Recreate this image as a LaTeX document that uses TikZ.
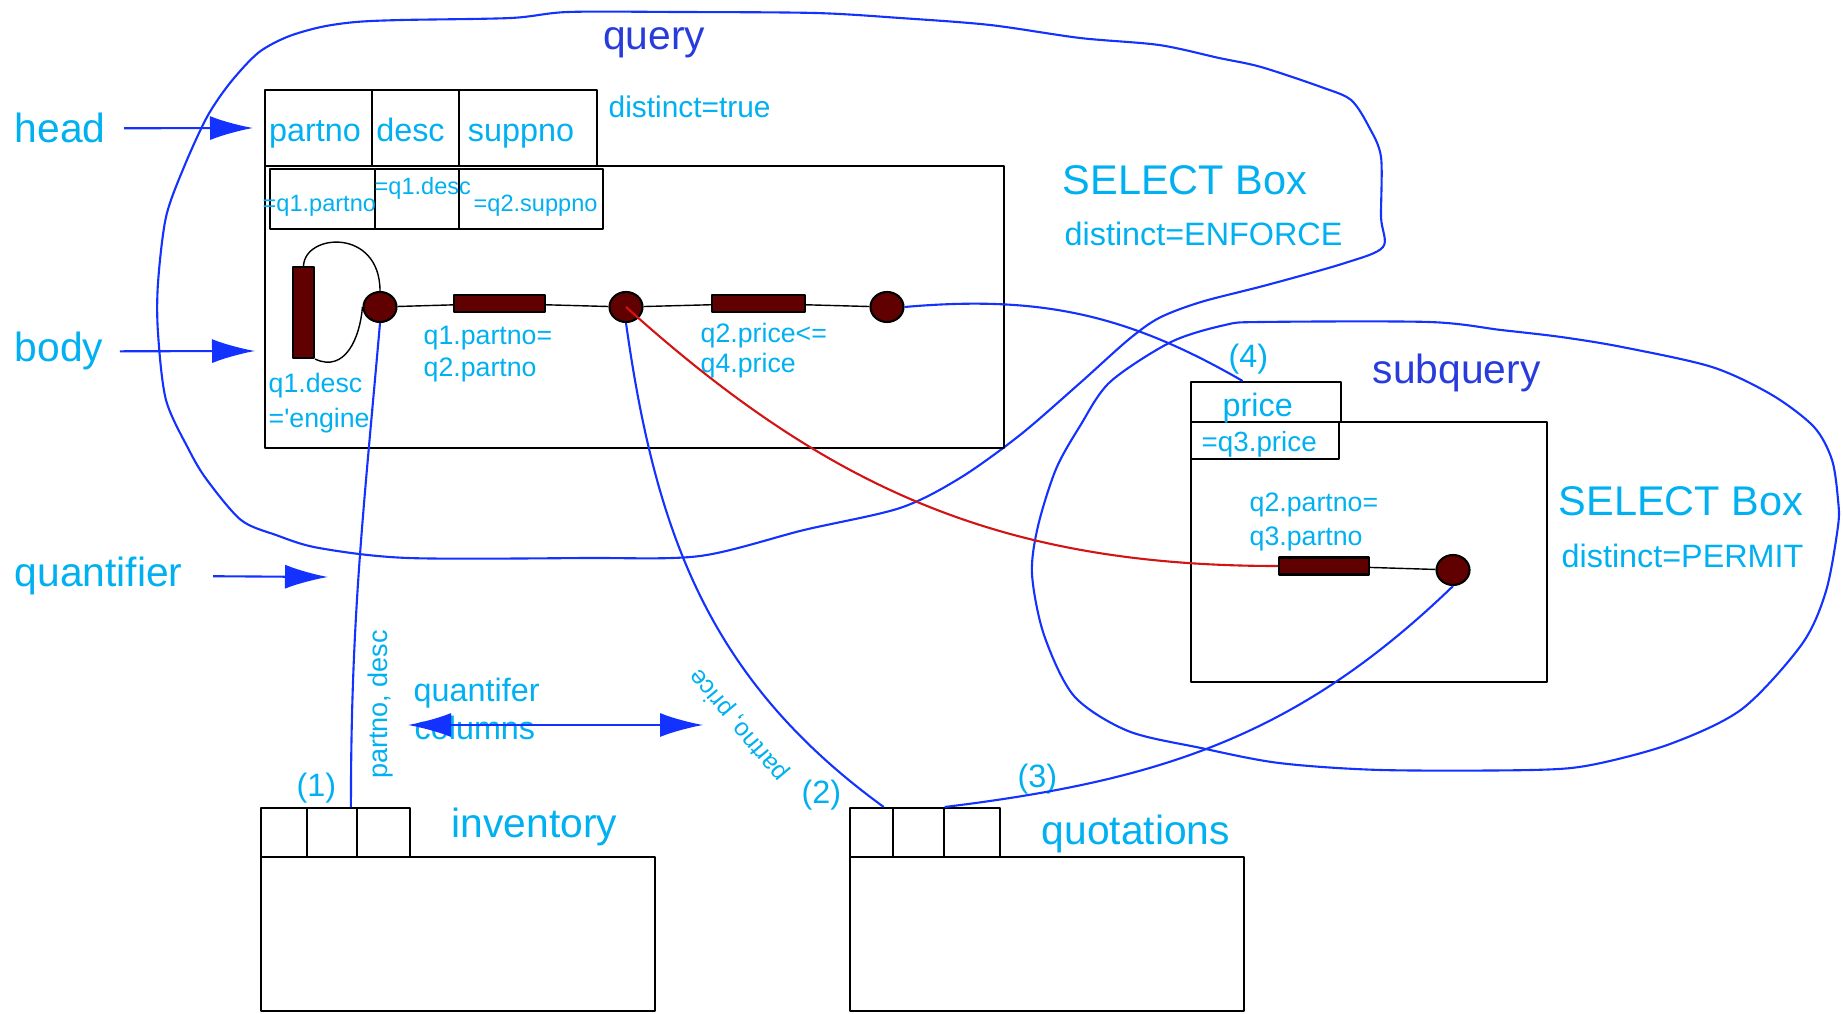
\documentclass[tikz,border=0pt]{standalone}
\usepackage{fontspec}
\setmainfont{Liberation Sans}
\newfontfamily\plainfont{Liberation Sans}
\usetikzlibrary{arrows.meta,shapes.geometric}

\definecolor{labelblue}{RGB}{0,176,240}
\definecolor{lineblue}{RGB}{20,50,255}
\definecolor{titleblue}{RGB}{40,60,220}
\definecolor{predred}{RGB}{96,0,0}
\definecolor{linkred}{RGB}{210,20,20}

\newcommand{\fbig}{\fontsize{11.6}{13}\selectfont}
\newcommand{\fsel}{\fontsize{11.8}{13}\selectfont}
\newcommand{\fmid}{\fontsize{9.2}{11}\selectfont}
\newcommand{\fsm}{\fontsize{8.5}{10}\selectfont}
\newcommand{\fpred}{\fontsize{7.6}{9}\selectfont}
\newcommand{\ftiny}{\fontsize{6.7}{8}\selectfont}

\tikzset{
  lbl/.style={text=labelblue, inner sep=0pt, anchor=base west},
  cell/.style={draw, line width=0.7pt, inner sep=0pt, anchor=north west},
  bar/.style={draw, fill=predred, line width=0.6pt, inner sep=0pt},
  joint/.style={ellipse, draw, fill=predred, line width=0.6pt, inner sep=0pt,
    minimum width=0.33cm, minimum height=0.30cm},
  blob/.style={lineblue, line width=0.6pt},
  link/.style={lineblue, line width=0.6pt},
  pointer/.style={lineblue, line width=0.6pt, ->},
}

\begin{document}
\begin{tikzpicture}[>={Latex[length=4.3mm,width=2.4mm]}, line join=round]
\useasboundingbox (0,0) rectangle (18.43,10.13);

% outlines of query and subquery
\draw[blob] plot[smooth cycle, tension=0.5] coordinates {
  (3.56,9.91) (4.02,9.93) (5.11,9.95) (5.68,10.01) (6.77,10.01) (8.15,10.00)
  (9.00,9.95) (9.90,9.88) (10.80,9.75) (11.59,9.68) (12.19,9.55) (12.61,9.46)
  (13.21,9.26) (13.51,9.13) (13.69,8.86) (13.81,8.56) (13.81,7.96) (13.83,7.66)
  (13.45,7.50) (12.67,7.28) (12.01,7.11) (11.59,6.95) (11.28,6.73) (10.80,6.30)
  (10.20,5.78) (9.60,5.35) (9.00,5.05) (8.04,4.83) (7.00,4.57) (5.86,4.55)
  (4.08,4.55) (3.19,4.65) (2.76,4.78) (2.41,4.93) (2.07,5.33) (1.89,5.63)
  (1.66,6.13) (1.58,6.80) (1.58,7.30) (1.66,7.96) (1.84,8.46) (2.07,8.96)
  (2.30,9.30) (2.58,9.60) (2.87,9.76) (3.21,9.86)};
\draw[blob] plot[smooth cycle, tension=0.5] coordinates {
  (12.61,6.91) (14.29,6.91) (15.01,6.83) (15.61,6.76) (16.22,6.66) (17.12,6.46)
  (17.72,6.18) (18.14,5.86) (18.32,5.53) (18.38,5.13) (18.38,4.87) (18.26,4.22)
  (18.02,3.69) (17.42,3.04) (16.70,2.69) (15.91,2.48) (15.31,2.43) (13.81,2.43)
  (12.79,2.50) (12.01,2.65) (11.28,2.82) (10.74,3.17) (10.44,3.78) (10.32,4.39)
  (10.38,4.87) (10.56,5.44) (10.80,5.87) (11.10,6.31) (11.71,6.71) (12.25,6.88)};

\node[lbl, font=\fbig, text=titleblue, anchor=base] (querylbl) at (6.54,9.63) {query};
\node[lbl, font=\fbig, text=titleblue] (subquerylbl) at (13.72,6.29) {subquery};

% head and body of the query box
\node[cell, minimum width=1.07cm, minimum height=0.76cm] (hpartno) at (2.64,9.24) {};
\node[cell, minimum width=0.87cm, minimum height=0.76cm] (hdesc) at (3.71,9.24) {};
\node[cell, minimum width=1.38cm, minimum height=0.76cm] (hsupp) at (4.58,9.24) {};
\node[cell, minimum width=7.39cm, minimum height=2.82cm] (qbody) at (2.64,8.48) {};
\node[cell, minimum width=1.05cm, minimum height=0.60cm] (rpartno) at (2.69,8.45) {};
\node[cell, minimum width=0.84cm, minimum height=0.60cm] (rdesc) at (3.74,8.45) {};
\node[cell, minimum width=1.44cm, minimum height=0.60cm] (rsupp) at (4.58,8.45) {};

\node[lbl, font=\fmid, anchor=base] (tpartno) at (3.15,8.71) {partno};
\node[lbl, font=\fmid, anchor=base] (tdesc) at (4.105,8.71) {desc};
\node[lbl, font=\fmid, anchor=base] (tsupp) at (5.21,8.71) {suppno};
\node[lbl, font=\fsm] (dtrue) at (6.08,8.95) {distinct=true};
\node[lbl, font=\ftiny] (epartno) at (2.62,8.01) {=q1.partno};
\node[lbl, font=\ftiny] (edesc) at (3.74,8.18) {=q1.desc};
\node[lbl, font=\ftiny] (esupp) at (4.73,8.01) {=q2.suppno};
\node[lbl, font=\fsel] (sel1) at (10.62,8.18) {SELECT Box};
\node[lbl, font=\fmid] (dist1) at (10.64,7.67) {distinct=ENFORCE};

% predicates of the query
\node[bar, minimum width=0.21cm, minimum height=0.91cm] (dbar) at (3.035,7.005) {};
\node[joint] (j1) at (3.80,7.06) {};
\node[bar, minimum width=0.91cm, minimum height=0.17cm] (pbar1) at (4.995,7.095) {};
\node[joint] (j2) at (6.26,7.06) {};
\node[bar, minimum width=0.93cm, minimum height=0.17cm] (pbar2) at (7.585,7.095) {};
\node[joint] (j3) at (8.87,7.06) {};
\draw (j1) -- (pbar1) -- (j2) -- (pbar2) -- (j3);
\draw (dbar.north) .. controls (3.05,7.80) and (3.80,7.85) .. (j1.north);
\draw (j1.west) .. controls (3.60,6.75) and (3.45,6.40) .. (dbar.south east);

\node[lbl, font=\fpred] (p1a) at (4.23,6.68) {q1.partno=};
\node[lbl, font=\fpred] (p1b) at (4.23,6.36) {q2.partno};
\node[lbl, font=\fpred] (p2a) at (7.00,6.70) {q2.price<=};
\node[lbl, font=\fpred] (p2b) at (7.00,6.40) {q4.price};
\node[lbl, font=\fpred] (p0a) at (2.68,6.20) {q1.desc};
\node[lbl, font=\plainfont\fpred] (p0b) at (2.68,5.85) {='engine'};

% subquery box
\node[cell, minimum width=1.50cm, minimum height=0.40cm] (pricecell) at (11.90,6.32) {};
\node[cell, minimum width=3.56cm, minimum height=2.60cm] (sbody) at (11.90,5.92) {};
\node[cell, minimum width=1.48cm, minimum height=0.37cm] (q3cell) at (11.90,5.92) {};
\node[lbl, font=\fmid] (tprice) at (12.22,5.96) {price};
\node[lbl, font=\fontsize{7.9}{9}\selectfont] (eprice) at (12.01,5.61) {=q3.price};
\node[lbl, font=\fmid] (n4lbl) at (12.28,6.45) {(4)};
\node[lbl, font=\fsel] (sel2) at (15.58,4.97) {SELECT Box};
\node[lbl, font=\fmid] (dist2) at (15.61,4.46) {distinct=PERMIT};

\node[bar, minimum width=0.90cm, minimum height=0.17cm] (sbar) at (13.24,4.47) {};
\node[joint] (j4) at (14.53,4.43) {};
\draw (sbar) -- (j4);
\node[lbl, font=\fpred] (p3a) at (12.49,5.02) {q2.partno=};
\node[lbl, font=\fpred] (p3b) at (12.49,4.67) {q3.partno};

% base tables
\node[cell, minimum width=0.46cm, minimum height=0.49cm] (inv1) at (2.60,2.06) {};
\node[cell, minimum width=0.50cm, minimum height=0.49cm] (inv2) at (3.06,2.06) {};
\node[cell, minimum width=0.53cm, minimum height=0.49cm] (inv3) at (3.56,2.06) {};
\node[cell, minimum width=3.94cm, minimum height=1.54cm] (invbody) at (2.60,1.57) {};
\node[cell, minimum width=0.43cm, minimum height=0.49cm] (quo1) at (8.49,2.06) {};
\node[cell, minimum width=0.51cm, minimum height=0.49cm] (quo2) at (8.92,2.06) {};
\node[cell, minimum width=0.56cm, minimum height=0.49cm] (quo3) at (9.43,2.06) {};
\node[cell, minimum width=3.94cm, minimum height=1.54cm] (quobody) at (8.49,1.57) {};
\node[lbl, font=\fbig] (invlbl) at (4.51,1.76) {inventory};
\node[lbl, font=\fbig] (quolbl) at (10.41,1.69) {quotations};
\node[lbl, font=\fmid] (n1lbl) at (2.96,2.17) {(1)};
\node[lbl, font=\fmid] (n2lbl) at (8.01,2.10) {(2)};
\node[lbl, font=\fmid] (n3lbl) at (10.17,2.26) {(3)};

% quantifiers
\draw[link] (j1.south) to[out=-95,in=90] (inv2.54);
\draw[link] (j2.south) to[out=-82,in=144] (quo1.65);
\draw[link] (j4.south) to[out=-136,in=7] (quo3.137);
\draw[link] (j3.east) to[out=5,in=150] (pricecell.138);
\draw[link, linkred] (j2.center) to[out=-42,in=180] (sbar.west);

\node[lbl, font=\fontsize{7.7}{9}\selectfont, anchor=base, rotate=90] (colsinv) at (3.87,3.085) {partno, desc};
\node[lbl, font=\fontsize{7.1}{9}\selectfont, anchor=center, rotate=130] (colsquo) at (7.39,2.88) {partno, price};
\node[lbl, font=\fmid] (qcol1) at (4.13,3.12) {quantifer};
\node[lbl, font=\fmid] (qcol2) at (4.14,2.74) {columns};
\coordinate (colL) at (4.08,2.88);
\coordinate (colR) at (7.03,2.88);
\draw[pointer, <->] (colL) -- (colR);

% side labels
\node[lbl, font=\fbig] (head) at (0.14,8.70) {head};
\node[lbl, font=\fbig] (body) at (0.14,6.51) {body};
\node[lbl, font=\fbig] (quant) at (0.14,4.27) {quantifier};
\coordinate (headtip) at (2.53,8.85);
\coordinate (bodytip) at (2.55,6.62);
\coordinate (quanttip) at (3.28,4.36);
\draw[pointer, shorten <=0.18cm] (head) -- (headtip);
\draw[pointer, shorten <=0.16cm] (body) -- (bodytip);
\draw[pointer, shorten <=0.30cm] (quant) -- (quanttip);

\end{tikzpicture}
\end{document}
